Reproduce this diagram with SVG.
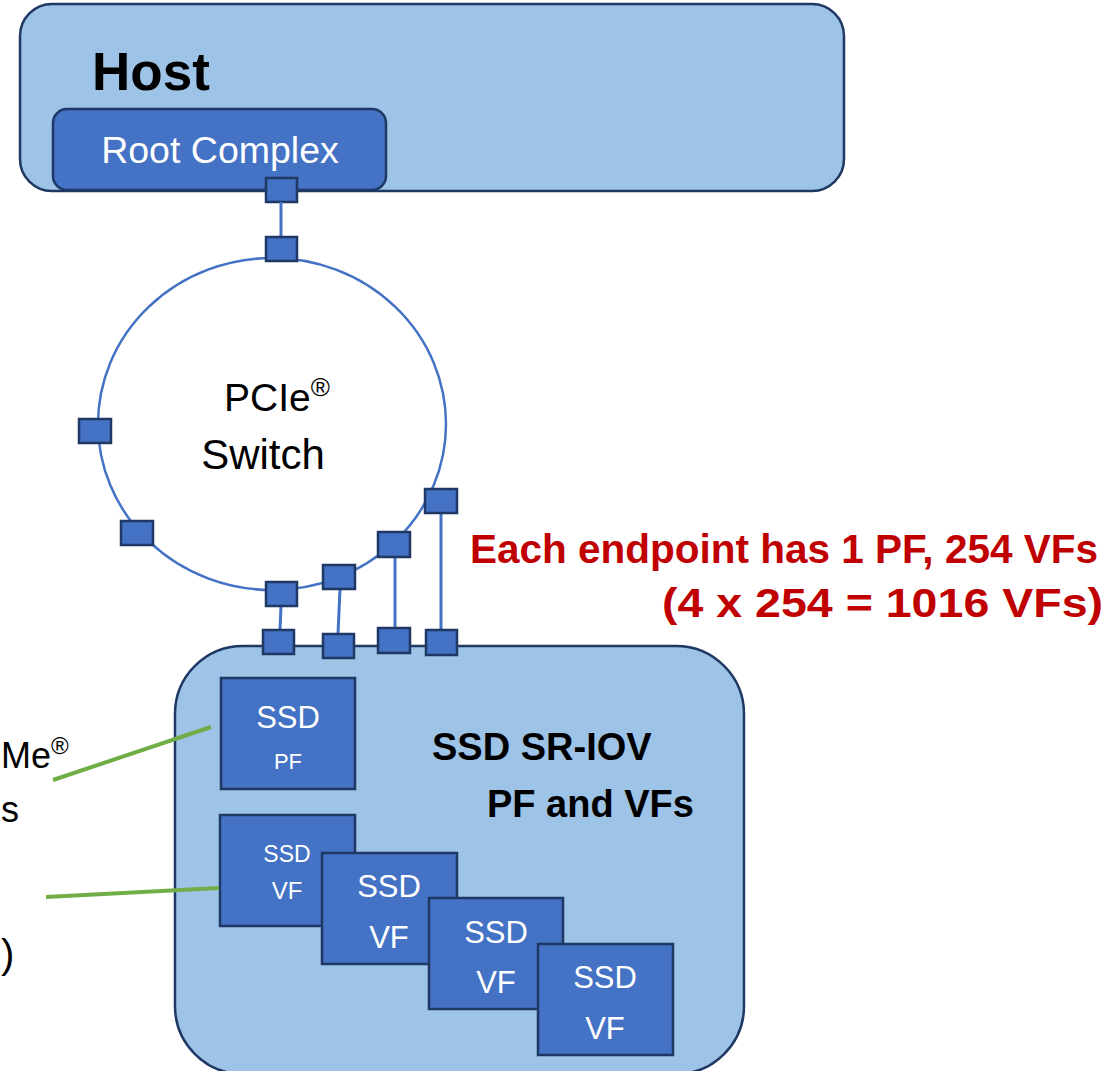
<svg xmlns="http://www.w3.org/2000/svg" width="1115" height="1071" viewBox="0 0 1115 1071">
  <style>
    .txt { font-family: "Liberation Sans", Arial, sans-serif; }
    .bold { font-weight: bold; }
    .white { fill: #FFFFFF; }
    .black { fill: #000000; }
    .red { fill: #C00000; font-weight: bold; }
    .shell { fill: #9DC3E6; stroke: #1F3864; stroke-width: 2.5; }
    .block { fill: #4472C4; stroke: #1F3864; stroke-width: 2.5; }
    .port { fill: #4472C4; stroke: #1F3864; stroke-width: 2.5; }
    .link { stroke: #4472C4; stroke-width: 3; fill: none; }
    .lead { stroke: #70AD47; stroke-width: 4; fill: none; }
  </style>

  <rect width="1115" height="1071" fill="#FFFFFF"/>

  <!-- Host with its root complex -->
  <g id="host">
    <rect class="shell" x="20" y="4" width="824" height="187" rx="32"/>
    <text class="txt bold black" x="92" y="90" font-size="53">Host</text>
  </g>
  <g id="root-complex">
    <rect class="block" x="53" y="109" width="333" height="81" rx="14"/>
    <text class="txt white" x="220" y="163" font-size="37.5" text-anchor="middle">Root Complex</text>
    <rect class="port" x="266" y="178" width="31" height="24"/>
  </g>

  <!-- SSD endpoint enclosure -->
  <g id="ssd-sriov">
    <rect class="shell" x="175" y="646" width="569" height="428" rx="68"/>
    <text class="txt bold black" x="432" y="760" font-size="38">SSD SR-IOV</text>
    <text class="txt bold black" x="487" y="817" font-size="38">PF and VFs</text>
  </g>

  <g id="ssd-pf">
    <rect class="block" x="221" y="678" width="134" height="111"/>
    <text class="txt white" x="288" y="728" font-size="31" text-anchor="middle">SSD</text>
    <text class="txt white" x="288" y="769" font-size="22" text-anchor="middle">PF</text>
  </g>
  <g id="ssd-vf-1">
    <rect class="block" x="220" y="815" width="135" height="111"/>
    <text class="txt white" x="287" y="862" font-size="23" text-anchor="middle">SSD</text>
    <text class="txt white" x="287" y="899" font-size="24" text-anchor="middle">VF</text>
  </g>
  <g id="ssd-vf-2">
    <rect class="block" x="322" y="853" width="135" height="111"/>
    <text class="txt white" x="389" y="897" font-size="31" text-anchor="middle">SSD</text>
    <text class="txt white" x="389" y="948" font-size="31" text-anchor="middle">VF</text>
  </g>
  <g id="ssd-vf-3">
    <rect class="block" x="429" y="898" width="134" height="111"/>
    <text class="txt white" x="496" y="943" font-size="31" text-anchor="middle">SSD</text>
    <text class="txt white" x="496" y="993" font-size="31" text-anchor="middle">VF</text>
  </g>
  <g id="ssd-vf-4">
    <rect class="block" x="538" y="944" width="135" height="111"/>
    <text class="txt white" x="605" y="988" font-size="31" text-anchor="middle">SSD</text>
    <text class="txt white" x="605" y="1039" font-size="31" text-anchor="middle">VF</text>
  </g>

  <!-- Links between ports, and leader lines -->
  <g id="connectors">
    <line class="link" x1="281" y1="202" x2="281" y2="237"/>
    <line class="link" x1="281" y1="606" x2="280" y2="630"/>
    <line class="link" x1="340" y1="589" x2="338" y2="634"/>
    <line class="link" x1="395" y1="557" x2="395" y2="628"/>
    <line class="link" x1="441" y1="513" x2="441" y2="630"/>
    <line class="lead" x1="53" y1="780" x2="211" y2="727"/>
    <line class="lead" x1="46" y1="897" x2="219" y2="888"/>
  </g>

  <!-- PCIe switch -->
  <g id="pcie-switch">
    <ellipse cx="272" cy="424" rx="174" ry="166" fill="#FFFFFF" stroke="#4472C4" stroke-width="2.5"/>
    <text class="txt black" x="224" y="411" font-size="39">PCIe<tspan font-size="26" dy="-15">®</tspan></text>
    <text class="txt black" x="263" y="469" font-size="42" text-anchor="middle">Switch</text>
    <rect class="port" x="266" y="237" width="31" height="24"/>
    <rect class="port" x="79" y="419" width="32" height="24"/>
    <rect class="port" x="121" y="521" width="32" height="24"/>
    <rect class="port" x="266" y="582" width="31" height="24"/>
    <rect class="port" x="323" y="565" width="32" height="24"/>
    <rect class="port" x="378" y="532" width="32" height="25"/>
    <rect class="port" x="425" y="489" width="32" height="24"/>
  </g>

  <!-- Endpoint ports on the SSD enclosure -->
  <g id="ssd-ports">
    <rect class="port" x="263" y="630" width="31" height="24"/>
    <rect class="port" x="323" y="634" width="31" height="24"/>
    <rect class="port" x="378" y="628" width="32" height="25"/>
    <rect class="port" x="426" y="630" width="31" height="25"/>
  </g>

  <!-- Endpoint note -->
  <g id="endpoint-note">
    <text class="txt red" x="470" y="563" font-size="40" textLength="628" lengthAdjust="spacingAndGlyphs">Each endpoint has 1 PF, 254 VFs</text>
    <text class="txt red" x="662" y="617" font-size="40" textLength="441" lengthAdjust="spacingAndGlyphs">(4 x 254 = 1016 VFs)</text>
  </g>

  <!-- Side labels at the left margin -->
  <g id="side-labels">
    <text class="txt black" x="1" y="768" font-size="36">Me<tspan font-size="24" dy="-14">®</tspan></text>
    <text class="txt black" x="1" y="822" font-size="36">s</text>
    <text class="txt black" x="1" y="968" font-size="40">)</text>
  </g>
</svg>
